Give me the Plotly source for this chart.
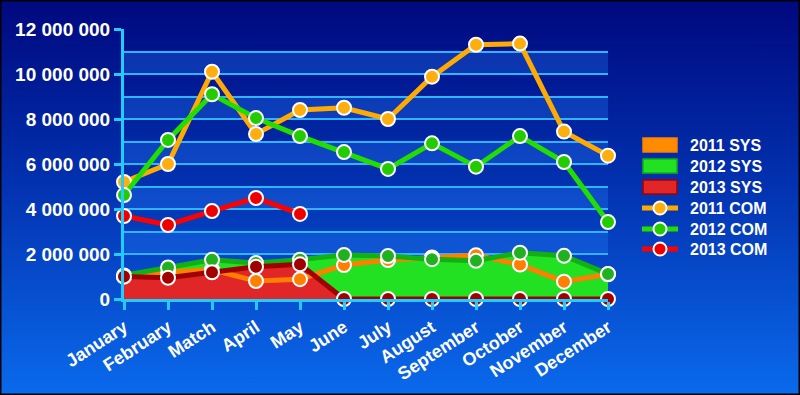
import base64
import plotly.graph_objects as go

months = ["January", "February", "Match", "April", "May", "June", "July",
          "August", "September", "October", "November", "December"]

com_2011 = [5.2e6, 6.0e6, 10.1e6, 7.33e6, 8.4e6, 8.5e6, 8.0e6, 9.88e6, 11.3e6, 11.35e6, 7.44e6, 6.37e6]
com_2012 = [4.62e6, 7.07e6, 9.1e6, 8.04e6, 7.24e6, 6.53e6, 5.78e6, 6.92e6, 5.88e6, 7.24e6, 6.09e6, 3.42e6]
com_2013 = [3.69e6, 3.29e6, 3.91e6, 4.49e6, 3.78e6]

sys_2011 = [1.0e6, 1.2e6, 1.3e6, 0.8e6, 0.88e6, 1.51e6, 1.73e6, 1.85e6, 1.95e6, 1.53e6, 0.77e6, 1.1e6]
sys_2012 = [1.05e6, 1.4e6, 1.74e6, 1.6e6, 1.75e6, 1.96e6, 1.91e6, 1.77e6, 1.7e6, 2.06e6, 1.92e6, 1.11e6]
sys_2013 = [1.0e6, 0.94e6, 1.19e6, 1.43e6, 1.54e6, 0, 0, 0, 0, 0, 0, 0]

y_tickvals = [0, 2e6, 4e6, 6e6, 8e6, 10e6, 12e6]
y_ticktext = ["0", "2 000 000", "4 000 000", "6 000 000", "8 000 000", "10 000 000", "12 000 000"]

legend_names = ["2011 SYS", "2012 SYS", "2013 SYS", "2011 COM", "2012 COM", "2013 COM"]

W, H = 800, 395
ML, MR, MT, MB = 124, 192, 29, 96
PW, PH = W - ML - MR, H - MT - MB

FONT = "Liberation Sans, Arial, sans-serif"


def px_x(px):
    return (px - ML) / PW


def px_y(py):
    return (H - MB - py) / PH


svg = (f"<svg xmlns='http://www.w3.org/2000/svg' width='{W}' height='{H}' preserveAspectRatio='none'>"
       "<defs><linearGradient id='g' x1='0' y1='0' x2='0' y2='1'>"
       "<stop offset='0' stop-color='#00087e'/>"
       "<stop offset='0.45' stop-color='#0230ae'/>"
       "<stop offset='1' stop-color='#0a6aec'/>"
       "</linearGradient></defs>"
       f"<rect width='{W}' height='{H}' fill='url(#g)'/></svg>")
bg_uri = "data:image/svg+xml;base64," + base64.b64encode(svg.encode()).decode()

fig = go.Figure()

x = list(range(len(months)))

sys_fill = ["#ff8c00", "#22e022", "#e02626"]
sys_line = ["#ff7f00", "#12b012", "#a00000"]
sys_mark = ["#ff7f00", "#20b020", "#a00000"]
com_line = ["#ffaa00", "#22dd00", "#ff0000"]
com_mark = ["#ffae10", "#22cc00", "#ee0000"]

sys_vals = [sys_2011, sys_2012, sys_2013]
com_vals = [com_2011, com_2012, com_2013]

for i, vals in enumerate(sys_vals):
    fig.add_trace(go.Scatter(x=x, y=vals, name=legend_names[i], mode="none", fill="tozeroy",
                             fillcolor=sys_fill[i], hoverinfo="skip", showlegend=False))

for i, vals in enumerate(sys_vals):
    fig.add_trace(go.Scatter(x=x, y=vals, mode="lines+markers", showlegend=False,
                             line=dict(color=sys_line[i], width=5),
                             marker=dict(size=14, color=sys_mark[i], line=dict(color="white", width=2)),
                             cliponaxis=False))

for i, vals in enumerate(com_vals):
    fig.add_trace(go.Scatter(x=x[:len(vals)], y=vals, name=legend_names[3 + i], mode="lines+markers",
                             line=dict(color=com_line[i], width=5), showlegend=False,
                             marker=dict(size=14, color=com_mark[i], line=dict(color="white", width=2)),
                             cliponaxis=False))

shapes = []
for k in range(0, 12, 2):
    shapes.append(dict(type="rect", xref="paper", yref="y", x0=0, x1=1,
                       y0=k * 1e6, y1=(k + 1) * 1e6, layer="below",
                       fillcolor="rgba(40,130,255,0.3)", line=dict(width=0)))

# legend (drawn with shapes and annotations)
annotations = []
row_y = [145, 166, 187, 208, 229, 249]
for i, name in enumerate(legend_names):
    cy = row_y[i]
    if i < 3:
        shapes.append(dict(type="rect", xref="paper", yref="paper",
                           x0=px_x(643), x1=px_x(677), y0=px_y(cy + 7), y1=px_y(cy - 7),
                           fillcolor=sys_fill[i], line=dict(color=sys_line[i], width=1.5)))
    else:
        j = i - 3
        shapes.append(dict(type="line", xref="paper", yref="paper",
                           x0=px_x(642), x1=px_x(678), y0=px_y(cy), y1=px_y(cy),
                           line=dict(color=com_line[j], width=5)))
        shapes.append(dict(type="circle", xref="paper", yref="paper",
                           x0=px_x(653.5), x1=px_x(666.5), y0=px_y(cy + 6.5), y1=px_y(cy - 6.5),
                           fillcolor=com_mark[j], line=dict(color="white", width=2)))
    annotations.append(dict(text=name, xref="paper", yref="paper", x=px_x(688), y=px_y(cy),
                            xanchor="left", yanchor="middle", showarrow=False,
                            font=dict(family=FONT, size=16, color="white", weight="bold")))

shapes.append(dict(type="rect", xref="paper", yref="paper",
                   x0=-ML / PW + 0.001, x1=(W - ML) / PW - 0.001,
                   y0=-MB / PH + 0.002, y1=1 + MT / PH - 0.002,
                   line=dict(color="black", width=2), fillcolor="rgba(0,0,0,0)", layer="above"))

fig.update_layout(
    width=W, height=H,
    margin=dict(l=ML, r=MR, t=MT, b=MB),
    paper_bgcolor="#0330b0",
    plot_bgcolor="rgba(0,0,0,0)",
    font=dict(family=FONT, color="white", size=16, weight="bold"),
    images=[dict(source=bg_uri, xref="paper", yref="paper",
                 x=-ML / PW, y=1 + MT / PH, sizex=W / PW, sizey=H / PH,
                 xanchor="left", yanchor="top", sizing="stretch", layer="below")],
    shapes=shapes,
    annotations=annotations,
    showlegend=False,
    xaxis=dict(range=[0, 11], tickmode="array", tickvals=x, ticktext=months,
               tickangle=-33, showgrid=False, zeroline=False,
               showline=True, linecolor="#22ccff", linewidth=3,
               ticks="outside", ticklen=8, tickwidth=3, tickcolor="#22ccff",
               tickfont=dict(family=FONT, size=18, color="white", weight="bold")),
    yaxis=dict(range=[0, 12e6], tickmode="array", tickvals=y_tickvals, ticktext=y_ticktext,
               showgrid=True, gridcolor="#30b4ff", gridwidth=1.5, zeroline=False,
               minor=dict(dtick=1e6, tick0=0, showgrid=True, gridcolor="#30b4ff", gridwidth=1.5),
               showline=True, linecolor="#22ccff", linewidth=3,
               ticks="outside", ticklen=7, tickwidth=3, tickcolor="#22ccff",
               tickfont=dict(family=FONT, size=19, color="white", weight="bold")),
)

fig.write_html("out.html")
